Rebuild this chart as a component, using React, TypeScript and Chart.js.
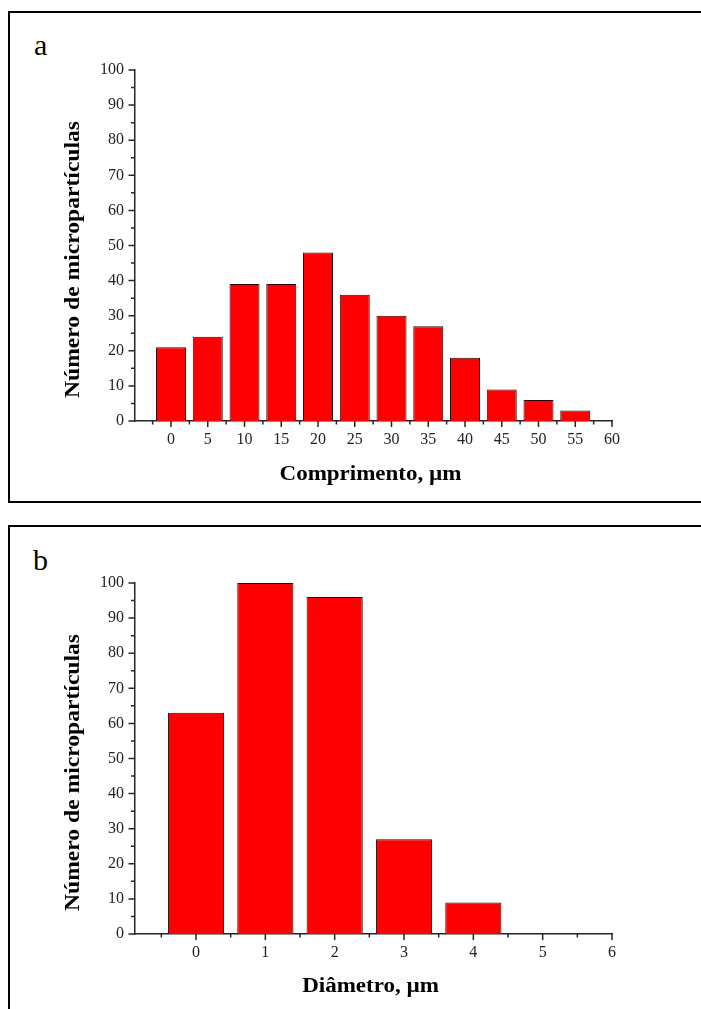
import React, { useEffect, useRef } from "react";
import { Chart, registerables } from "chart.js";

Chart.register(...registerables);

// ---- Data (panel a: length) ----
const lengthBins = [0, 5, 10, 15, 20, 25, 30, 35, 40, 45, 50, 55];
const lengthCounts = [21, 24, 39, 39, 48, 36, 30, 27, 18, 9, 6, 3];
const lengthTicks = [0, 5, 10, 15, 20, 25, 30, 35, 40, 45, 50, 55, 60];
const lengthMinorTicks = [-2.5, 2.5, 7.5, 12.5, 17.5, 22.5, 27.5, 32.5, 37.5, 42.5, 47.5, 52.5, 57.5];

// ---- Data (panel b: diameter) ----
const diameterBins = [0, 1, 2, 3, 4, 5];
const diameterCounts = [63, 100, 96, 27, 9, 0];
const diameterTicks = [0, 1, 2, 3, 4, 5, 6];
const diameterMinorTicks = [-0.5, 0.5, 1.5, 2.5, 3.5, 4.5, 5.5];

// ---- Shared count axis ----
const countTicks = [0, 10, 20, 30, 40, 50, 60, 70, 80, 90, 100];
const countMinorTicks = [5, 15, 25, 35, 45, 55, 65, 75, 85, 95];

const yTitleText = "Número de micropartículas";
const lengthTitle = "Comprimento, µm";
const diameterTitle = "Diâmetro, µm";

const SERIF = '"Liberation Serif", "Times New Roman", serif';
const AXIS_COLOR = "#262626";

const decorPlugin = {
  id: "axisDecor",
  afterDraw(chart: any, _args: any, opts: any) {
    const { ctx, chartArea } = chart;
    const xs = chart.scales.x;
    const ys = chart.scales.y;
    ctx.save();
    ctx.strokeStyle = AXIS_COLOR;
    ctx.lineWidth = 1.5;
    ctx.beginPath();
    const bottom = chartArea.bottom;
    const left = chartArea.left;
    (opts.xMajor || []).forEach((v: number) => {
      const px = xs.getPixelForValue(v);
      ctx.moveTo(px, bottom);
      ctx.lineTo(px, bottom + 6);
    });
    (opts.xMinor || []).forEach((v: number) => {
      const px = xs.getPixelForValue(v);
      ctx.moveTo(px, bottom);
      ctx.lineTo(px, bottom + 3.5);
    });
    (opts.yMajor || []).forEach((v: number) => {
      const py = ys.getPixelForValue(v);
      ctx.moveTo(left, py);
      ctx.lineTo(left - 6.5, py);
    });
    (opts.yMinor || []).forEach((v: number) => {
      const py = ys.getPixelForValue(v);
      ctx.moveTo(left, py);
      ctx.lineTo(left - 4, py);
    });
    ctx.stroke();

    // axis titles
    ctx.fillStyle = "#000";
    ctx.font = `bold 20px ${SERIF}`;
    ctx.textAlign = "center";
    ctx.textBaseline = "middle";
    const stretch = 1.15;

    ctx.save();
    ctx.translate((chartArea.left + chartArea.right) / 2 - 3, bottom + opts.xTitleGap);
    ctx.scale(stretch, 1);
    ctx.fillText(opts.xTitle, 0, 0);
    ctx.restore();

    ctx.save();
    ctx.translate(opts.yTitleX, (chartArea.top + chartArea.bottom) / 2 + opts.yTitleShift);
    ctx.rotate(-Math.PI / 2);
    ctx.scale(stretch + 0.03, 1);
    ctx.fillText(opts.yTitle, 0, 0);
    ctx.restore();

    ctx.restore();
  },
};

function buildConfig(p: any) {
  return {
    type: "bar",
    data: {
      datasets: [
        {
          data: p.bins.map((b: number, i: number) => ({ x: b, y: p.counts[i] })),
          backgroundColor: "#ff0000",
          borderColor: "#2a0606",
          borderWidth: 1,
          borderSkipped: "bottom",
          categoryPercentage: 1,
          barPercentage: p.barPct,
        },
      ],
    },
    options: {
      animation: false,
      responsive: false,
      maintainAspectRatio: false,
      layout: { padding: { left: 60, top: p.padTop, right: 89, bottom: 0 } },
      plugins: {
        legend: { display: false },
        tooltip: { enabled: false },
        axisDecor: {
          xMajor: p.xTicks,
          xMinor: p.xMinor,
          yMajor: countTicks,
          yMinor: countMinorTicks,
          xTitle: p.xTitle,
          yTitle: yTitleText,
          xTitleGap: p.xTitleGap,
          yTitleX: 74,
          yTitleShift: 14,
        },
      },
      scales: {
        x: {
          type: "linear",
          min: p.xMin,
          max: p.xMax,
          offset: false,
          grid: { display: false, drawTicks: false, offset: false },
          border: { display: true, color: AXIS_COLOR, width: 1.5 },
          ticks: {
            padding: 9,
            color: "#222",
            font: { family: SERIF, size: 16 },
            autoSkip: false,
            maxRotation: 0,
            minRotation: 0,
          },
          afterBuildTicks: (s: any) => {
            s.ticks = p.xTicks.map((v: number) => ({ value: v }));
          },
          afterFit: (s: any) => {
            s.height = p.xAxisHeight;
          },
        },
        y: {
          type: "linear",
          min: 0,
          max: 100,
          grid: { display: false, drawTicks: false },
          border: { display: true, color: AXIS_COLOR, width: 1.5 },
          ticks: {
            padding: 11,
            color: "#222",
            font: { family: SERIF, size: 16 },
          },
          afterBuildTicks: (s: any) => {
            s.ticks = countTicks.map((v: number) => ({ value: v }));
          },
          afterFit: (s: any) => {
            s.width = 75;
          },
        },
      },
    },
    plugins: [decorPlugin],
  };
}

function useChart(ref: any, cfg: any) {
  useEffect(() => {
    if (!ref.current) return;
    const chart = new Chart(ref.current, cfg as any);
    return () => chart.destroy();
  }, []);
}

export default function App() {
  const topRef = useRef<HTMLCanvasElement>(null);
  const botRef = useRef<HTMLCanvasElement>(null);

  useChart(
    topRef,
    buildConfig({
      bins: lengthBins,
      counts: lengthCounts,
      xTicks: lengthTicks,
      xMinor: lengthMinorTicks,
      xMin: -4.9,
      xMax: 60,
      barPct: 0.816,
      padTop: 70,
      xAxisHeight: 79,
      xTitle: lengthTitle,
      xTitleGap: 54,
    })
  );
  useChart(
    botRef,
    buildConfig({
      bins: diameterBins,
      counts: diameterCounts,
      xTicks: diameterTicks,
      xMinor: diameterMinorTicks,
      xMin: -0.88,
      xMax: 6,
      barPct: 0.81,
      padTop: 83,
      xAxisHeight: 75,
      xTitle: diameterTitle,
      xTitleGap: 53,
    })
  );

  const letter: React.CSSProperties = {
    position: "absolute",
    fontFamily: SERIF,
    fontSize: 30,
    lineHeight: "30px",
    color: "#000",
  };

  return (
    <div
      style={{
        position: "absolute",
        left: 0,
        top: 0,
        width: 701,
        height: 1009,
        overflow: "hidden",
        background: "#fff",
      }}
    >
      <div
        style={{
          position: "absolute",
          left: 8,
          top: 11,
          width: 720,
          height: 492,
          boxSizing: "border-box",
          borderLeft: "2px solid #000",
          borderTop: "2px solid #000",
          borderBottom: "2px solid #000",
        }}
      />
      <div
        style={{
          position: "absolute",
          left: 8,
          top: 525,
          width: 720,
          height: 600,
          boxSizing: "border-box",
          borderLeft: "2px solid #000",
          borderTop: "2px solid #000",
        }}
      />
      <div style={{ ...letter, left: 34, top: 30 }}>a</div>
      <div style={{ ...letter, left: 33, top: 545 }}>b</div>
      <canvas
        ref={topRef}
        width={701}
        height={500}
        style={{ position: "absolute", left: 0, top: 0 }}
      />
      <canvas
        ref={botRef}
        width={701}
        height={509}
        style={{ position: "absolute", left: 0, top: 500 }}
      />
    </div>
  );
}
